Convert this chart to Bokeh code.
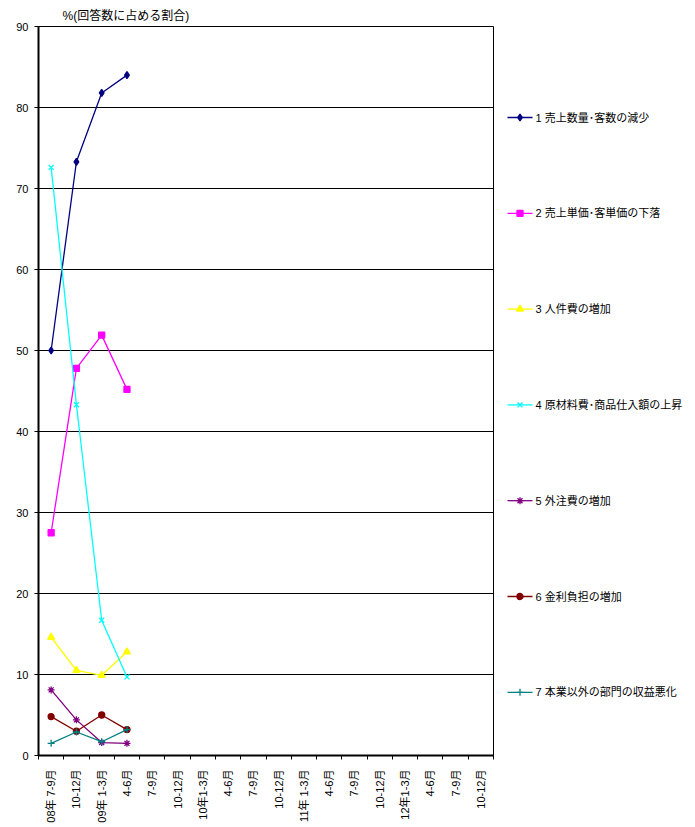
import math
from bokeh.plotting import figure
from bokeh.layouts import row
from bokeh.models import Range1d, FixedTicker
from bokeh.core.properties import value
from bokeh.embed import file_html
from bokeh.resources import INLINE

# Quarter labels along the x axis
quarters = ["08年 7-9月", "10-12月", "09年 1-3月", "4-6月", "7-9月", "10-12月",
            "10年1-3月", "4-6月", "7-9月", "10-12月", "11年 1-3月", "4-6月",
            "7-9月", "10-12月", "12年1-3月", "4-6月", "7-9月", "10-12月"]

# Share of responses (%) per reason, first four quarters
s1_sales_volume = [50.0, 73.3, 81.8, 84.0]
s2_unit_price = [27.5, 47.8, 51.9, 45.2]
s3_labor_cost = [14.6, 10.5, 9.9, 12.8]
s4_material_cost = [72.6, 43.3, 16.7, 9.7]
s5_outsourcing = [8.1, 4.4, 1.6, 1.5]
s6_interest = [4.8, 3.0, 5.0, 3.2]
s7_other_dept = [1.5, 2.9, 1.7, 3.2]

series_names = ["1 売上数量･客数の減少", "2 売上単価･客単価の下落", "3 人件費の増加",
                "4 原材料費･商品仕入額の上昇", "5 外注費の増加", "6 金利負担の増加",
                "7 本業以外の部門の収益悪化"]
series_values = [s1_sales_volume, s2_unit_price, s3_labor_cost, s4_material_cost,
                 s5_outsourcing, s6_interest, s7_other_dept]
colors = ["#000080", "#FF00FF", "#FFFF00", "#00FFFF", "#800080", "#800000", "#008080"]
markers = ["diamond", "square", "triangle", "x", "asterisk", "circle", "cross"]
msizes = [7, 6, 7, 7, 7, 6, 7]

FONT = "Liberation Sans, Noto Sans CJK JP"
TOP, BOTTOM = 26, 72

# ---- main chart -------------------------------------------------------------
p = figure(width=495, height=827, output_backend="svg", toolbar_location=None,
           x_range=Range1d(0, 18), y_range=Range1d(0, 90),
           min_border_left=38, min_border_right=2, min_border_top=TOP,
           min_border_bottom=BOTTOM)
p.background_fill_color = "white"
p.border_fill_color = "white"
p.outline_line_color = "black"
p.outline_line_width = 1

p.title.text = "%(回答数に占める割合)"
p.title.align = "left"
p.title.offset = 24
p.title.text_font = FONT
p.title.text_font_size = "12px"
p.title.text_font_style = "normal"
p.title.text_color = "black"
p.title.standoff = 7

# x axis: labels centred in each quarter, small ticks at quarter boundaries
centers = [i + 0.5 for i in range(len(quarters))]
bounds = list(range(0, len(quarters) + 1))
p.xaxis.ticker = FixedTicker(ticks=centers, minor_ticks=bounds)
p.xaxis.major_label_overrides = {c: q for c, q in zip(centers, quarters)}
p.xaxis.major_label_orientation = math.pi / 2
p.xaxis.major_tick_out = 0
p.xaxis.major_tick_in = 0
p.xaxis.minor_tick_out = 4
p.xaxis.minor_tick_in = 0
p.xaxis.major_label_standoff = 10
p.xaxis.major_label_text_font = FONT
p.xaxis.major_label_text_font_size = "11px"
p.xaxis.major_label_text_color = "black"
p.xaxis.axis_line_width = 2
p.xaxis.axis_line_color = "black"

p.yaxis.ticker = FixedTicker(ticks=list(range(0, 91, 10)))
p.yaxis.major_tick_out = 4
p.yaxis.major_tick_in = 0
p.yaxis.minor_tick_out = 0
p.yaxis.minor_tick_in = 0
p.yaxis.major_label_standoff = 6
p.yaxis.major_label_text_font = FONT
p.yaxis.major_label_text_font_size = "11px"
p.yaxis.major_label_text_color = "black"
p.yaxis.axis_line_width = 2
p.yaxis.axis_line_color = "black"

p.xgrid.grid_line_color = None
p.ygrid.ticker = FixedTicker(ticks=list(range(10, 90, 10)))
p.ygrid.grid_line_color = "black"
p.ygrid.grid_line_width = 1

for vals, col, mk, ms in zip(series_values, colors, markers, msizes):
    xs = centers[:len(vals)]
    p.line(xs, vals, line_color=col, line_width=1.3)
    p.scatter(xs, vals, marker=mk, size=ms, fill_color=col, line_color=col,
              line_width=1.3)

# ---- legend panel (page pixel coordinates, y grows downward) -----------------
lg = figure(width=200, height=827, output_backend="svg", toolbar_location=None,
            x_range=Range1d(0, 200), y_range=Range1d(827 - BOTTOM, TOP),
            x_axis_location=None, y_axis_location=None,
            min_border_left=0, min_border_right=0,
            min_border_top=TOP, min_border_bottom=BOTTOM)
lg.outline_line_color = None
lg.grid.visible = False
lg.background_fill_color = "white"
lg.border_fill_color = "white"

first_row, row_pitch = 117, 95.8
rows_y = [first_row + i * row_pitch for i in range(len(series_names))]
for name, y, col, mk, ms in zip(series_names, rows_y, colors, markers, msizes):
    lg.line([12, 37], [y, y], line_color=col, line_width=1.3)
    lg.scatter([24.5], [y], marker=mk, size=ms, fill_color=col, line_color=col,
               line_width=1.3)

lg.text(x=[40] * len(series_names), y=rows_y, text=series_names,
        text_font=value(FONT), text_font_size="11px", text_color="black",
        text_baseline="middle", text_align="left")

layout = row(p, lg, spacing=0)
open("out.html", "w").write(file_html(layout, INLINE))
